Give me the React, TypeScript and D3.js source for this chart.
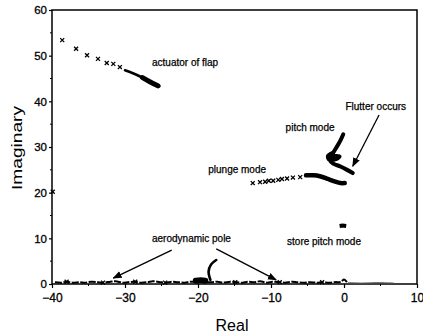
import React, { useEffect, useRef } from 'react';
import * as d3 from 'd3';

// root-locus data (real, imaginary)
const flapSparse = [[-38.6, 53.4], [-36.7, 51.5], [-35.2, 50.1], [-33.7, 49.3], [-32.5, 48.4], [-31.6, 48.2], [-30.7, 47.5]];
const flapDense = [[-30.0, 46.8], [-29.0, 46.2], [-28.0, 45.5], [-27.0, 44.7], [-26.0, 43.9], [-25.3, 43.3]];
const flapTail = [[-27.6, 45.2], [-26.6, 44.3], [-25.5, 43.4]];

const pitchUpper = [[-0.1, 32.8], [-0.5, 31.4], [-1.0, 30.0], [-1.5, 28.7]];
const pitchLoop = [[-1.5, 28.7], [-2.2, 28.0], [-2.0, 27.2], [-1.2, 27.3], [-0.6, 27.9], [-1.6, 27.9], [-1.9, 27.0], [-1.4, 26.3], [-0.6, 25.8], [0.3, 25.1], [1.2, 24.3]];

const plungeSparse = [[-12.5, 22.1], [-11.5, 22.3], [-10.8, 22.4], [-10.3, 22.6], [-9.7, 22.6], [-9.0, 22.8], [-8.5, 23.0], [-7.8, 23.1], [-7.0, 23.3], [-6.0, 23.4]];
const plungeDense = [[-5.2, 23.8], [-4.2, 23.8], [-3.3, 23.6], [-2.5, 23.2], [-1.9, 22.8], [-1.2, 22.4], [-0.5, 22.1], [0.1, 22.1]];

const storePitch = [[-0.6, 12.7], [-0.2, 12.8], [0.3, 12.7]];

const aeroBase = [[-39.6, 0.4], [-38.7, 0.3], [-38.0, 0.5], [-37.2, 0.3], [-36.2, 0.4], [-35.5, 0.3], [-34.6, 0.5], [-33.7, 0.4], [-33.0, 0.3], [-32.0, 0.5], [-31.3, 0.6], [-30.3, 0.3], [-29.6, 0.4], [-28.6, 0.5], [-27.9, 0.3], [-26.9, 0.4], [-26.2, 0.6], [-25.2, 0.4], [-24.5, 0.3], [-23.5, 0.5], [-22.8, 0.4], [-21.8, 0.3], [-21.0, 0.5], [-18.3, 0.4], [-17.3, 0.5], [-16.6, 0.3], [-15.6, 0.5], [-14.9, 0.4], [-13.9, 0.3], [-13.2, 0.5], [-12.2, 0.4], [-11.5, 0.6], [-10.5, 0.3], [-9.8, 0.5], [-8.8, 0.4], [-8.1, 0.3], [-7.1, 0.5], [-6.4, 0.4], [-5.4, 0.3], [-4.7, 0.4], [-3.7, 0.3], [-3.0, 0.4], [-2.0, 0.3], [-1.3, 0.4], [-0.4, 0.5], [0.0, 1.0], [0.4, 0.4]];
const aeroTail = [[0.6, 0.3], [2.5, 0.2], [4.5, 0.3], [6.8, 0.2]];
const aeroClump = [[-20.3, 0.7], [-19.6, 0.8], [-19.0, 0.7]];
const aeroArc = [[-18.3, 0.9], [-18.55, 2.7], [-18.2, 4.3], [-17.5, 5.25]];
const aeroTicks = [[-38.0, 0.5], [-33.0, 0.3], [-28.6, 0.5], [-24.5, 0.3], [-14.9, 0.4], [-8.8, 0.4], [-3.0, 0.4]];
const strayPoints = [[-39.9, 20.2]];

const xTicks = [-40, -30, -20, -10, 0, 10];
const yTicks = [0, 10, 20, 30, 40, 50, 60];

// annotation text and arrows, in data units
const labels = [
  { text: 'actuator of flap', x: -26.3, y: 47.7 },
  { text: 'pitch mode', x: -8.0, y: 33.5 },
  { text: 'Flutter occurs', x: 0.2, y: 38.1 },
  { text: 'plunge mode', x: -18.6, y: 24.3 },
  { text: 'store pitch mode', x: -7.8, y: 8.5 },
  { text: 'aerodynamic pole', x: -26.3, y: 9.2 },
];
const arrows = [
  { from: [4.8, 37.0], to: [1.2, 25.8] },
  { from: [-23.6, 7.4], to: [-31.6, 1.3] },
  { from: [-17.5, 7.7], to: [-9.3, 0.9] },
];

const W = 423;
const H = 335;

export default function App() {
  const ref = useRef<SVGSVGElement>(null);

  useEffect(() => {
    if (!ref.current) return;
    const svg = d3.select(ref.current);
    svg.selectAll('*').remove();

    const x = d3.scaleLinear().domain([-40, 10]).range([52, 417]);
    const y = d3.scaleLinear().domain([0, 60]).range([284, 10]);
    const font = 'Arial, "Liberation Sans", Helvetica, sans-serif';

    svg.append('defs').append('marker')
      .attr('id', 'ah')
      .attr('viewBox', '0 0 10 10')
      .attr('refX', 9).attr('refY', 5)
      .attr('markerWidth', 7).attr('markerHeight', 7)
      .attr('orient', 'auto')
      .append('path').attr('d', 'M0,1L10,5L0,9z').attr('fill', '#000');

    // frame
    svg.append('rect')
      .attr('x', 52).attr('y', 10)
      .attr('width', 365).attr('height', 274)
      .attr('fill', 'none').attr('stroke', '#000').attr('stroke-width', 1.5);

    // axes
    const xAxis = svg.append('g').attr('transform', 'translate(0,284)')
      .call(d3.axisBottom(x).tickValues(xTicks).tickSize(4).tickPadding(5));
    const yAxis = svg.append('g').attr('transform', 'translate(52,0)')
      .call(d3.axisLeft(y).tickValues(yTicks).tickSize(3).tickPadding(2));
    [xAxis, yAxis].forEach((a) => {
      a.select('.domain').remove();
      a.selectAll('.tick line').attr('stroke', '#000').attr('stroke-width', 1.2);
      a.selectAll('.tick text')
        .attr('font-family', font).attr('font-size', 12).attr('fill', '#000')
        .attr('stroke', '#000').attr('stroke-width', 0.3);
    });
    yAxis.selectAll('.tick text').attr('font-size', 11.5);
    // minor ticks
    const minorX = d3.range(-35, 10, 10);
    const minorY = d3.range(5, 60, 10);
    svg.append('g').selectAll('line').data(minorX).enter().append('line')
      .attr('x1', (d) => x(d)).attr('x2', (d) => x(d))
      .attr('y1', 284).attr('y2', 286).attr('stroke', '#000');
    svg.append('g').selectAll('line').data(minorY).enter().append('line')
      .attr('x1', 50).attr('x2', 52)
      .attr('y1', (d) => y(d)).attr('y2', (d) => y(d)).attr('stroke', '#000');

    // axis titles
    svg.append('text')
      .attr('x', 232).attr('y', 331)
      .attr('text-anchor', 'middle')
      .attr('font-family', font).attr('font-size', 16)
      .text('Real');
    svg.append('text')
      .attr('transform', 'translate(22,148) rotate(-90)')
      .attr('text-anchor', 'middle')
      .attr('font-family', font).attr('font-size', 15)
      .attr('textLength', 84).attr('lengthAdjust', 'spacingAndGlyphs')
      .text('Imaginary');

    const line = d3.line<number[]>().x((d) => x(d[0])).y((d) => y(d[1])).curve(d3.curveCatmullRom);
    const path = (pts: number[][], w: number, color = '#000') =>
      svg.append('path').attr('d', line(pts)).attr('fill', 'none')
        .attr('stroke', color).attr('stroke-width', w)
        .attr('stroke-linecap', 'round').attr('stroke-linejoin', 'round');

    const cross = d3.symbol().type(d3.symbolX).size(12);
    const marks = (pts: number[][]) =>
      svg.append('g').selectAll('path').data(pts).enter().append('path')
        .attr('d', cross)
        .attr('transform', (d) => `translate(${x(d[0])},${y(d[1])})`)
        .attr('fill', 'none').attr('stroke', '#000').attr('stroke-width', 1.3);

    // aerodynamic poles
    path(aeroTail, 1, '#555');
    path(aeroBase, 2).attr('stroke-dasharray', '7,1.5').attr('stroke-linecap', 'butt');
    marks(aeroTicks);
    path(aeroClump, 6);
    path(aeroArc, 2.6);
    marks(strayPoints);

    // actuator of flap
    marks(flapSparse);
    path(flapDense, 2.6);
    path(flapTail, 5);

    // pitch mode
    path(pitchUpper, 4);
    path(pitchLoop, 4);

    // plunge mode
    marks(plungeSparse);
    path(plungeDense, 4.5);

    // store pitch mode
    svg.append('path').attr('d', d3.line<number[]>().x((d) => x(d[0])).y((d) => y(d[1]))(storePitch))
      .attr('stroke', '#000').attr('stroke-width', 4).attr('fill', 'none');

    // annotations
    svg.append('g').selectAll('text').data(labels).enter().append('text')
      .attr('x', (d) => x(d.x)).attr('y', (d) => y(d.y))
      .attr('font-family', font).attr('font-size', 10)
      .attr('fill', '#000').attr('stroke', '#000').attr('stroke-width', 0.25)
      .text((d) => d.text);
    svg.append('g').selectAll('line').data(arrows).enter().append('line')
      .attr('x1', (d) => x(d.from[0])).attr('y1', (d) => y(d.from[1]))
      .attr('x2', (d) => x(d.to[0])).attr('y2', (d) => y(d.to[1]))
      .attr('stroke', '#000').attr('stroke-width', 1.3)
      .attr('marker-end', 'url(#ah)');
  }, []);

  return (
    <svg ref={ref} width={W} height={H}
      style={{ position: 'absolute', left: 0, top: 0, background: '#fff' }} />
  );
}
